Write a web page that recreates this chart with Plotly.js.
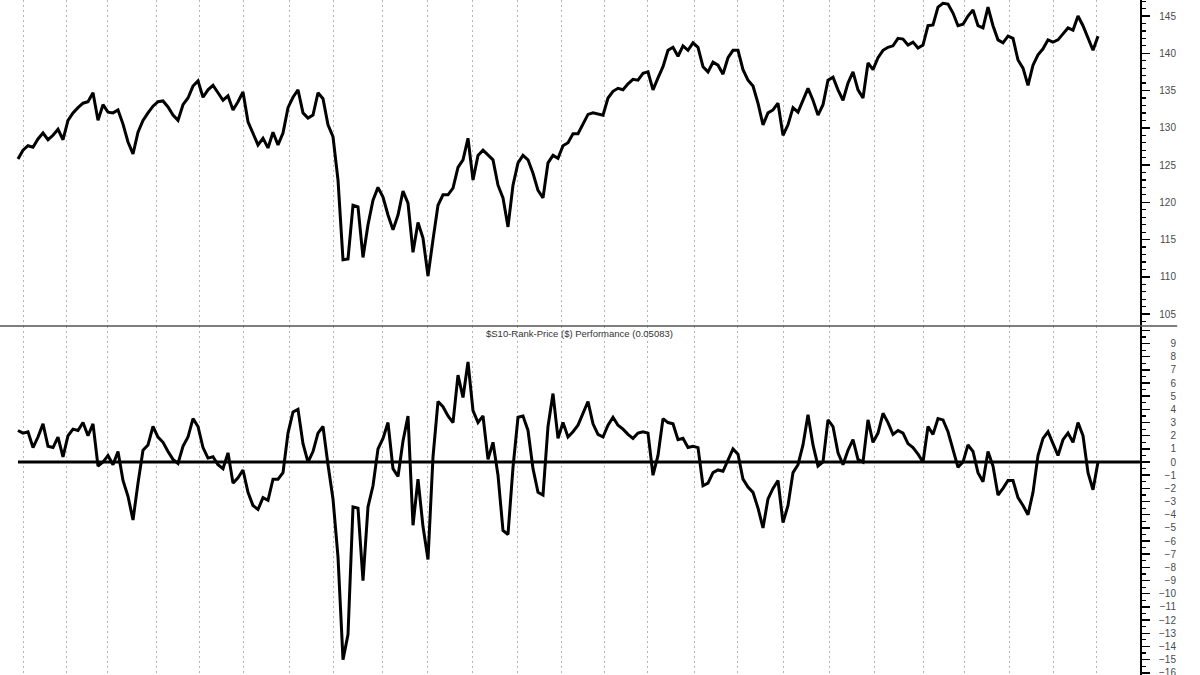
<!DOCTYPE html>
<html>
<head>
<meta charset="utf-8">
<script src="https://cdn.plot.ly/plotly-3.0.1.min.js"></script>
<style>
html,body{margin:0;padding:0;background:#fff;}
#chart{width:1200px;height:675px;}
</style>
</head>
<body>
<div id="chart"></div>
<script>
// Price series (top panel), one reading every ~2.5 trading days
const price = [
125.8,127.0,127.6,127.4,128.5,129.3,128.4,129.0,129.8,128.4,
131.0,132.0,132.7,133.3,133.5,134.7,131.0,133.1,132.1,132.0,
132.4,130.5,128.1,126.5,129.4,131.0,132.0,132.9,133.5,133.6,
132.8,131.7,131.0,133.1,134.0,135.6,136.3,134.1,135.1,135.7,
134.7,133.7,134.3,132.4,133.5,134.8,130.8,129.2,127.7,128.6,
127.3,129.4,127.7,129.3,132.7,134.1,135.1,132.0,131.3,131.7,
134.7,133.9,130.4,128.8,123.0,112.3,112.4,119.6,119.4,112.6,
117.0,120.3,122.0,120.7,118.3,116.3,118.3,121.5,119.9,113.3,
117.3,115.2,110.1,115.0,119.6,121.0,121.0,121.9,124.7,125.7,
128.6,123.0,126.3,127.0,126.3,125.7,122.3,120.6,116.7,122.3,
125.3,126.3,125.7,123.9,121.6,120.6,125.3,126.3,125.9,127.6,
128.0,129.2,129.2,130.6,131.8,132.0,131.8,131.7,134.0,134.9,
135.3,135.1,135.9,136.5,136.4,137.3,137.5,135.1,136.7,138.2,
140.4,140.8,139.6,141.0,140.4,141.4,140.8,138.2,137.5,138.8,
138.4,137.2,139.4,140.4,140.4,137.8,136.4,135.6,133.3,130.4,
132.0,132.4,133.3,129.0,130.4,132.7,132.1,133.7,135.3,133.7,
131.7,133.1,136.4,136.8,135.1,133.7,136.0,137.5,135.1,134.0,
138.7,137.8,139.4,140.4,140.8,141.0,142.0,141.9,141.1,141.5,
140.7,141.1,143.7,143.8,146.2,146.7,146.6,145.4,143.7,143.9,
145.0,145.8,143.7,143.4,146.2,143.7,141.8,141.4,142.3,142.0,
139.1,138.0,135.7,138.4,139.8,140.6,141.8,141.5,141.8,142.6,
143.4,143.1,145.0,143.7,142.0,140.4,142.3
];

// $S10-Rank-Price ($) Performance (bottom panel)
const perf = [
2.4,2.2,2.3,1.1,1.9,2.9,1.2,1.1,1.9,0.4,
2.0,2.5,2.4,3.0,2.0,2.9,-0.3,0.0,0.5,-0.2,
0.8,-1.4,-2.6,-4.4,-1.6,0.9,1.3,2.7,1.9,1.5,
0.8,0.2,-0.1,1.2,1.9,3.3,2.7,1.1,0.3,0.4,
-0.2,-0.5,0.7,-1.6,-1.2,-0.6,-2.3,-3.3,-3.6,-2.7,
-2.9,-1.3,-1.3,-0.8,2.2,3.8,4.0,1.4,0.0,0.8,
2.2,2.7,-0.2,-2.8,-7.2,-15.0,-13.1,-3.4,-3.5,-9.0,
-3.4,-1.8,1.0,1.8,3.0,-0.5,-1.1,1.6,3.5,-4.8,
-1.3,-4.9,-7.4,0.4,4.6,4.2,3.5,3.0,6.6,4.9,
7.6,3.9,3.0,3.5,0.2,1.5,-1.0,-5.2,-5.5,-0.4,
3.4,3.5,2.4,-0.5,-2.3,-2.5,2.7,5.2,1.8,3.0,
1.9,2.3,2.8,3.7,4.6,2.9,2.1,1.9,2.8,3.4,
2.8,2.5,2.1,1.8,2.2,2.3,2.2,-1.0,0.5,3.3,
3.0,2.9,1.7,1.8,1.1,1.2,1.1,-1.8,-1.6,-0.8,
-0.6,-0.7,0.2,1.0,0.6,-1.3,-1.9,-2.3,-3.5,-5.0,
-2.8,-2.0,-1.4,-4.6,-3.3,-0.8,-0.2,1.3,3.6,1.3,
-0.3,0.0,3.2,2.7,0.7,-0.2,0.9,1.7,0.2,0.0,
3.2,1.5,2.2,3.7,3.0,2.1,2.4,2.2,1.4,1.1,
0.6,0.0,2.7,2.1,3.3,3.2,2.3,0.9,-0.4,0.0,
1.3,0.8,-0.8,-1.5,0.8,-0.3,-2.5,-2.0,-1.4,-1.4,
-2.7,-3.3,-4.0,-2.3,0.5,1.8,2.3,1.4,0.5,1.7,
2.2,1.5,3.0,2.0,-0.8,-2.1,0.0
];

// Month boundaries, in reading index units (vertical dashed gridlines)
const monthStarts = [1,9.6,17.8,27.6,36.2,45,54.2,63,72.8,81.8,90.8,99.8,108.6,117.2,125.8,135.2,143.8,153,162.2,171.2,181,189.2,198.2,207,215.6];

// Tick labels of the lower panel
const perfTicks = [9,8,7,6,5,4,3,2,1,0,-1,-2,-3,-4,-5,-6,-7,-8,-9,-10,-11,-12,-13,-14,-15,-16];

const panelTitle = '$S10-Rank-Price ($) Performance (0.05083)';

const idx = price.map((_, i) => i);
const idxP = perf.map((_, i) => i);

const XR = [-3.6, 224.4];
const split = 0.517;
const lblPos = 0.980;
const font = 'Liberation Sans, Arial, sans-serif';

const xCommon = {
  range: XR, domain: [0, 0.95], showline: false, zeroline: false,
  tickmode: 'array', tickvals: monthStarts, ticks: '', showticklabels: false,
  showgrid: true, gridcolor: '#b4b4b4', gridwidth: 1, griddash: '2px,3px',
  fixedrange: true
};

const traces = [
  {x: idx, y: price, xaxis: 'x', yaxis: 'y', mode: 'lines',
   line: {color: '#000', width: 3}, hoverinfo: 'skip', showlegend: false},
  {x: idxP, y: perf, xaxis: 'x2', yaxis: 'y2', mode: 'lines',
   line: {color: '#000', width: 3}, hoverinfo: 'skip', showlegend: false},
  {x: idx, y: price, xaxis: 'x', yaxis: 'y3', mode: 'lines',
   line: {width: 0}, opacity: 0, hoverinfo: 'skip', showlegend: false},
  {x: idxP, y: perf, xaxis: 'x2', yaxis: 'y4', mode: 'lines',
   line: {width: 0}, opacity: 0, hoverinfo: 'skip', showlegend: false}
];

const layout = {
  width: 1200, height: 675,
  margin: {l: 0, r: 0, t: 0, b: 0, pad: 0},
  paper_bgcolor: '#fff', plot_bgcolor: '#fff',
  font: {family: font, size: 10, color: '#444'},
  showlegend: false,
  xaxis: Object.assign({}, xCommon, {anchor: 'y'}),
  xaxis2: Object.assign({}, xCommon, {anchor: 'y2'}),
  yaxis: {
    domain: [split, 1], range: [103.4, 147.15], anchor: 'x', side: 'right',
    showline: true, linecolor: '#000', linewidth: 1.5, mirror: false,
    ticks: 'outside', ticklen: 8, tickwidth: 1.5, tickcolor: '#000',
    dtick: 5, tick0: 0, showticklabels: false, showgrid: false, zeroline: false,
    minor: {ticks: 'outside', ticklen: 4, tickwidth: 1.2, tickcolor: '#000', dtick: 1, showgrid: false},
    fixedrange: true
  },
  yaxis2: {
    domain: [0, split], range: [-16.17, 10.33], anchor: 'x2', side: 'right',
    showline: true, linecolor: '#000', linewidth: 1.5,
    ticks: 'outside', ticklen: 8, tickwidth: 1.5, tickcolor: '#000',
    dtick: 1, tick0: 0, showticklabels: false, showgrid: false, zeroline: false,
    minor: {ticks: 'outside', ticklen: 4, tickwidth: 1.2, tickcolor: '#000', dtick: 0.5, showgrid: false},
    fixedrange: true
  },
  yaxis3: {
    overlaying: 'y', anchor: 'free', position: lblPos, side: 'left',
    range: [103.4, 147.15], dtick: 5, tick0: 0, ticks: '', showline: false,
    showgrid: false, zeroline: false, tickfont: {family: font, size: 10, color: '#4a4a4a'},
    ticklabeloverflow: 'allow', fixedrange: true
  },
  yaxis4: {
    overlaying: 'y2', anchor: 'free', position: lblPos, side: 'left',
    range: [-16.17, 10.33], tickmode: 'array', tickvals: perfTicks, ticks: '', showline: false,
    showgrid: false, zeroline: false, tickfont: {family: font, size: 10, color: '#4a4a4a'},
    ticklabeloverflow: 'allow', fixedrange: true
  },
  shapes: [
    {type: 'line', xref: 'x2', yref: 'y2', x0: 0, x1: XR[1], y0: 0, y1: 0,
     line: {color: '#000', width: 3}},
    {type: 'line', xref: 'paper', yref: 'paper', x0: 0, x1: 0.981, y0: split, y1: split,
     line: {color: '#555', width: 1.5}}
  ],
  annotations: [
    {text: panelTitle, xref: 'paper', yref: 'paper', x: 0.483, y: 0.5065,
     xanchor: 'center', yanchor: 'middle', showarrow: false,
     font: {family: font, size: 9.5, color: '#333'}}
  ]
};

Plotly.newPlot('chart', traces, layout, {displayModeBar: false, staticPlot: true});
</script>
</body>
</html>
